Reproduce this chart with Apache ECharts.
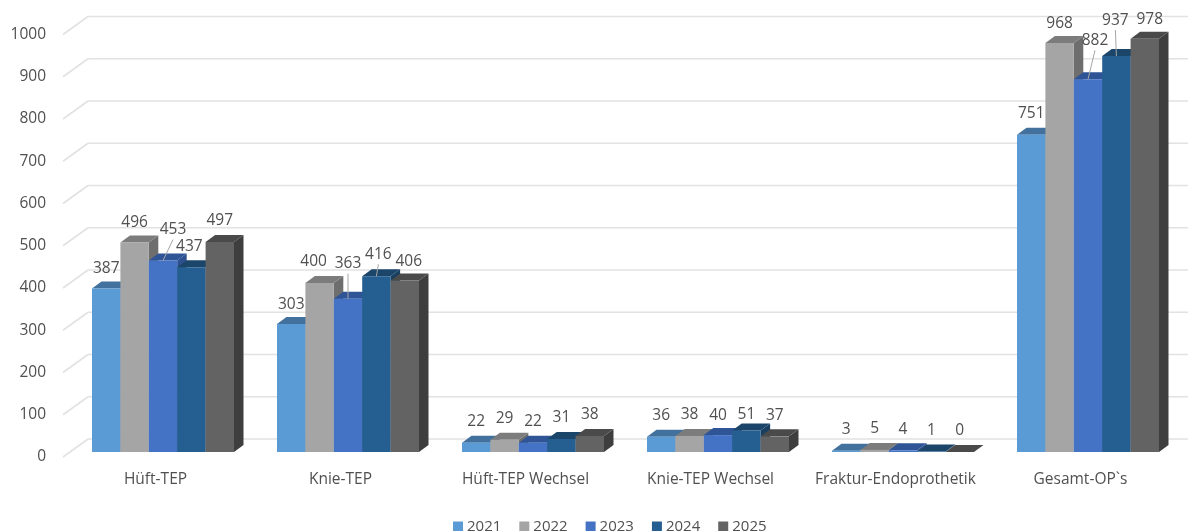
<!DOCTYPE html>
<html><head><meta charset="utf-8">
<style>html,body{margin:0;padding:0;background:#fff}#c{width:1188px;height:531px}</style>
<script src="https://cdn.jsdelivr.net/npm/echarts@6/dist/echarts.min.js"></script>
</head><body><div id="c"></div>
<script>
const categories = ['Hüft-TEP','Knie-TEP','Hüft-TEP Wechsel','Knie-TEP Wechsel','Fraktur-Endoprothetik','Gesamt-OP`s'];
const years = ['2021','2022','2023','2024','2025'];
const v2021 = [387,303,22,36,3,751];
const v2022 = [496,400,29,38,5,968];
const v2023 = [453,363,22,40,4,882];
const v2024 = [437,416,31,51,1,937];
const v2025 = [497,406,38,37,0,978];
const yTicks = [0,100,200,300,400,500,600,700,800,900,1000];

const values = [v2021,v2022,v2023,v2024,v2025];
const front = ['#5B9BD5','#A5A5A5','#4472C4','#255E91','#636363'];
const topC  = ['#41719C','#7C7C7C','#2F5597','#1B4569','#4A4A4A'];
const sideC = ['#3F6D96','#6E6E6E','#2C5090','#183F60','#3E3E3E'];
const BAR_W = 28.4, GROUP_W = 142, DX = 9.5, DY = 7;
const SHIFT_X = 7.5, SHIFT_Y = 5;
const WALL_X = 25, WALL_Y = 18;
const FONT = '"Open Sans"';
// label nudges relative to the default spot above a bar: series -> category -> [dx, dy, leader]
const nudges = {
  0:{0:[0,1],1:[0,2]},
  1:{0:[0,1],1:[-6,0],5:[0,2]},
  2:{0:[10,-10,1],1:[0,-14,1],3:[0,1],5:[7,-18,1]},
  3:{0:[-2,0],1:[2,-1,1],3:[0,5],5:[-1,-15,1]},
  4:{0:[0,0],1:[4,2],5:[5,2]}
};

function renderBar(s){
  return function(params, api){
    const cat = api.value(0), val = api.value(1);
    const c = api.coord([cat, val]), b = api.coord([cat, 0]);
    const x0 = c[0] + SHIFT_X - GROUP_W/2 + s*BAR_W, x1 = x0 + BAR_W;
    const yT = c[1] - SHIFT_Y, yB = b[1] - SHIFT_Y;
    const n = (nudges[s] && nudges[s][cat]) || [0,0];
    const lx = (x0+x1)/2 + n[0], ly = yT - 21 + n[1];
    const children = [
      {type:'polygon',shape:{points:[[x1,yT],[x1+DX,yT-DY],[x1+DX,yB-DY],[x1,yB]]},style:{fill:sideC[s]}},
      {type:'polygon',shape:{points:[[x0,yT],[x0+DX,yT-DY],[x1+DX,yT-DY],[x1,yT]]},style:{fill:topC[s]}},
      {type:'rect',shape:{x:x0,y:yT,width:BAR_W,height:yB-yT},style:{fill:front[s]}}
    ];
    if(n[2]) children.push({type:'line',shape:{x1:(x0+x1)/2,y1:yT,x2:lx,y2:ly+10},style:{stroke:'#A6A6A6',lineWidth:1},z2:20});
    children.push({type:'text',z2:30,style:{x:lx,y:ly,text:String(val),fill:'#505050',font:'15.5px '+FONT,align:'center',verticalAlign:'middle'}});
    return {type:'group',children};
  };
}
function renderWall(params, api){
  const y = api.coord([0, api.value(1)])[1];
  const L = params.coordSys.x, R = L + params.coordSys.width;
  const st = {stroke:'#E2E2E2',lineWidth:1.6};
  return {type:'group',children:[
    {type:'line',shape:{x1:L,y1:y,x2:L+WALL_X,y2:y-WALL_Y},style:st},
    {type:'line',shape:{x1:L+WALL_X,y1:y-WALL_Y,x2:R+WALL_X,y2:y-WALL_Y},style:st}
  ]};
}
const series = [{type:'custom',name:'wall',silent:true,clip:false,z:1,renderItem:renderWall,
  encode:{x:0,y:1},data:yTicks.map(t=>[0,t])}];
years.forEach((y,s)=>series.push({
  type:'custom',name:y,clip:false,z:2+s,renderItem:renderBar(s),itemStyle:{color:front[s]},
  encode:{x:0,y:1},data:values[s].map((v,i)=>[i,v])
}));
const chart = echarts.init(document.getElementById('c'),null,{renderer:'canvas'});
chart.setOption({
  animation:false,backgroundColor:'#fff',
  grid:{left:63,top:34.5,width:1110,height:422.5,containLabel:false},
  legend:{data:years,left:448,top:514,icon:'rect',itemWidth:10,itemHeight:10,itemGap:18,
    textStyle:{fontFamily:'Open Sans',fontSize:15,color:'#505050',padding:[0,0,0,-1]},selectedMode:false},
  xAxis:{type:'category',data:categories,axisLine:{show:false},axisTick:{show:false},splitLine:{show:false},
    axisLabel:{interval:0,margin:15,fontFamily:'Open Sans',fontSize:15.5,color:'#505050'}},
  yAxis:{type:'value',min:0,max:1000,interval:100,axisLine:{show:false},axisTick:{show:false},splitLine:{show:false},
    axisLabel:{margin:17,fontFamily:'Open Sans',fontSize:15.5,color:'#505050',formatter:v=>String(v)}},
  series
});
</script></body></html>
